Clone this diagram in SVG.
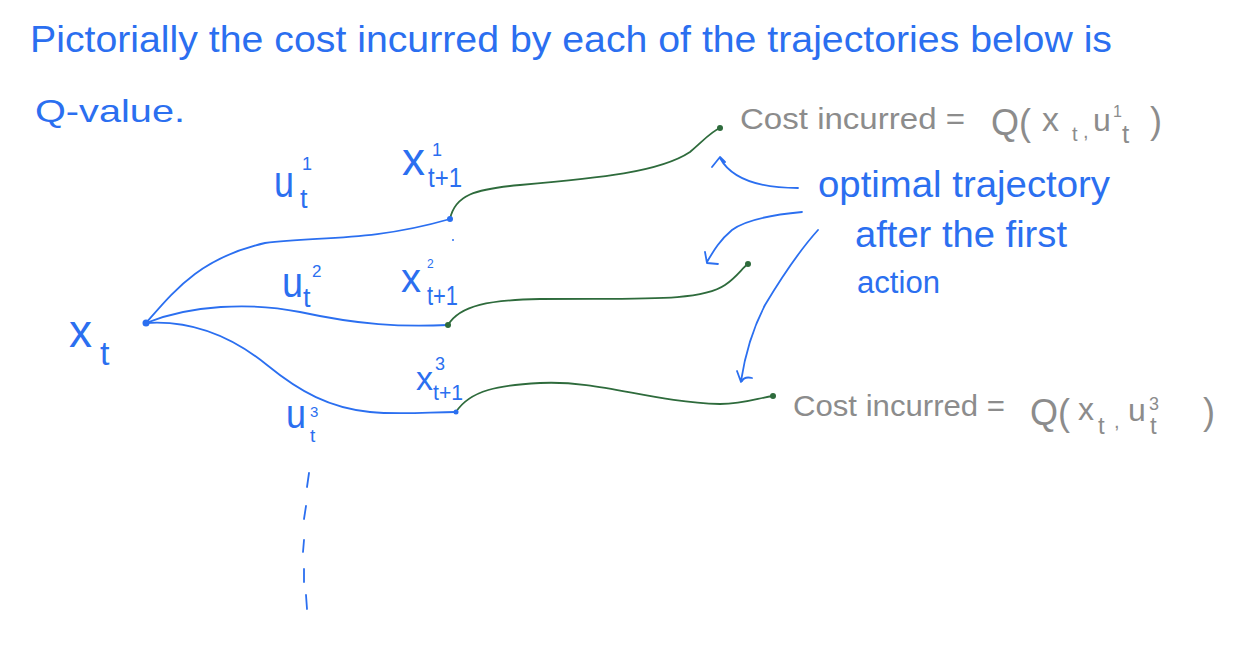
<svg xmlns="http://www.w3.org/2000/svg" width="1252" height="646" viewBox="0 0 1252 646">
<style>
.b{fill:#2b6ff0;font-family:"Liberation Sans",Arial,sans-serif}
.g{fill:#8c8c8c;font-family:"Liberation Sans",Arial,sans-serif}
.lb{fill:none;stroke:#2b6ff0;stroke-width:1.8;stroke-linecap:round;stroke-linejoin:round}
.lg{fill:none;stroke:#2e6b3c;stroke-width:1.8;stroke-linecap:round}
.dg{fill:#2e6b3c}
.db{fill:#2b6ff0}
</style>
<rect width="1252" height="646" fill="#fff"/>
<g id="title">
<text class="b" x="30" y="52" font-size="36" textLength="1082" lengthAdjust="spacingAndGlyphs">Pictorially the cost incurred by each of the trajectories below is</text>
<text class="b" x="35" y="122" font-size="32" textLength="150" lengthAdjust="spacingAndGlyphs">Q-value.</text>
</g>
<g id="xt">
<text class="b" x="69" y="347" font-size="46">x</text>
<text class="b" x="100" y="365" font-size="34">t</text>
</g>
<g id="u1">
<text class="b" x="274" y="197" font-size="44" textLength="20" lengthAdjust="spacingAndGlyphs">u</text>
<text class="b" x="302" y="170" font-size="18">1</text>
<text class="b" x="300" y="208" font-size="27">t</text>
</g>
<g id="u2">
<text class="b" x="282" y="297" font-size="42" textLength="21" lengthAdjust="spacingAndGlyphs">u</text>
<text class="b" x="312" y="277" font-size="17">2</text>
<text class="b" x="303" y="307" font-size="27">t</text>
</g>
<g id="u3">
<text class="b" x="286" y="428" font-size="40" textLength="20" lengthAdjust="spacingAndGlyphs">u</text>
<text class="b" x="310" y="417" font-size="15">3</text>
<text class="b" x="310" y="442" font-size="19">t</text>
</g>
<g id="x1">
<text class="b" x="402" y="175" font-size="46">x</text>
<text class="b" x="432" y="156" font-size="18">1</text>
<text class="b" x="428" y="187" font-size="28" textLength="34" lengthAdjust="spacingAndGlyphs">t+1</text>
</g>
<g id="x2">
<text class="b" x="401" y="292" font-size="40">x</text>
<text class="b" x="427" y="268" font-size="12">2</text>
<text class="b" x="427" y="305" font-size="27" textLength="31" lengthAdjust="spacingAndGlyphs">t+1</text>
</g>
<g id="x3">
<text class="b" x="416" y="390" font-size="34">x</text>
<text class="b" x="435" y="370" font-size="18">3</text>
<text class="b" x="433" y="400" font-size="22" textLength="30" lengthAdjust="spacingAndGlyphs">t+1</text>
</g>
<g id="cost1">
<text class="g" x="740" y="129" font-size="30" textLength="225" lengthAdjust="spacingAndGlyphs">Cost incurred =</text>
<text class="g" x="991" y="135" font-size="36">Q(</text>
<text class="g" x="1042" y="131" font-size="34">x</text>
<text class="g" x="1072" y="141" font-size="20">t</text>
<text class="g" x="1083" y="138" font-size="20">,</text>
<text class="g" x="1093" y="131" font-size="32">u</text>
<text class="g" x="1113" y="117" font-size="16">1</text>
<text class="g" x="1122" y="143" font-size="26">t</text>
<text class="g" x="1150" y="133" font-size="36">)</text>
</g>
<g id="cost3">
<text class="g" x="793" y="416" font-size="30" textLength="212" lengthAdjust="spacingAndGlyphs">Cost incurred =</text>
<text class="g" x="1030" y="425" font-size="36">Q(</text>
<text class="g" x="1078" y="420" font-size="32">x</text>
<text class="g" x="1098" y="434" font-size="24">t</text>
<text class="g" x="1114" y="428" font-size="20">,</text>
<text class="g" x="1128" y="421" font-size="32">u</text>
<text class="g" x="1149" y="410" font-size="18">3</text>
<text class="g" x="1150" y="434" font-size="24">t</text>
<text class="g" x="1203" y="424" font-size="36">)</text>
</g>
<g id="optimal">
<text class="b" x="818" y="197" font-size="36" textLength="292" lengthAdjust="spacingAndGlyphs">optimal trajectory</text>
<text class="b" x="855" y="247" font-size="36" textLength="212" lengthAdjust="spacingAndGlyphs">after the first</text>
<text class="b" x="857" y="293" font-size="31" textLength="83" lengthAdjust="spacingAndGlyphs">action</text>
</g>
<g id="connectors">
<path class="lb" d="M146,323 C175,290 200,258 265,243 C320,236 370,242 450,219"/>
<path class="lb" d="M146,323 C190,305 250,302 300,312 C360,325 400,327 448,325"/>
<path class="lb" d="M146,323 C190,320 230,335 267,365 C300,392 330,408 370,412 C400,415 430,412 456,412"/>
<path class="lg" d="M450,219 C455,195 475,189 520,185 C600,178 660,172 690,152 C705,139 712,131 720,128"/>
<path class="lg" d="M448,325 C460,305 490,300 540,299 C640,298 700,302 725,285 C738,276 742,268 748,264"/>
<path class="lg" d="M456,412 C470,390 500,385 540,383 C600,380 650,402 720,404 C745,404 758,398 773,396"/>
<circle class="db" cx="146" cy="323" r="3.5"/>
<circle class="db" cx="450" cy="219" r="3"/>
<circle class="dg" cx="448" cy="325" r="3"/>
<circle class="db" cx="456" cy="412" r="2.5"/>
<circle class="dg" cx="720" cy="128" r="3"/>
<circle class="dg" cx="748" cy="264" r="3"/>
<circle class="dg" cx="773" cy="396" r="3"/>
<circle class="db" cx="453" cy="240" r="1"/>
<path class="lb" d="M798,188 C760,188 732,180 720,158 M712,167 L720,157 L725,162"/>
<path class="lb" d="M802,212 C770,215 745,220 732,230 C720,240 714,250 707,262 M705,252 L707,263 L718,264"/>
<path class="lb" d="M818,230 C800,250 780,280 765,305 C752,330 745,355 741,381 M737,371 L741,382 M742,381 C744,377 748,377 752,378"/>
<path class="lb" d="M309,473 L307,487 M306,506 L304,519 M304,540 L303,552 M304,569 L304,582 M306,595 L307,609"/>
</g>
</svg>
